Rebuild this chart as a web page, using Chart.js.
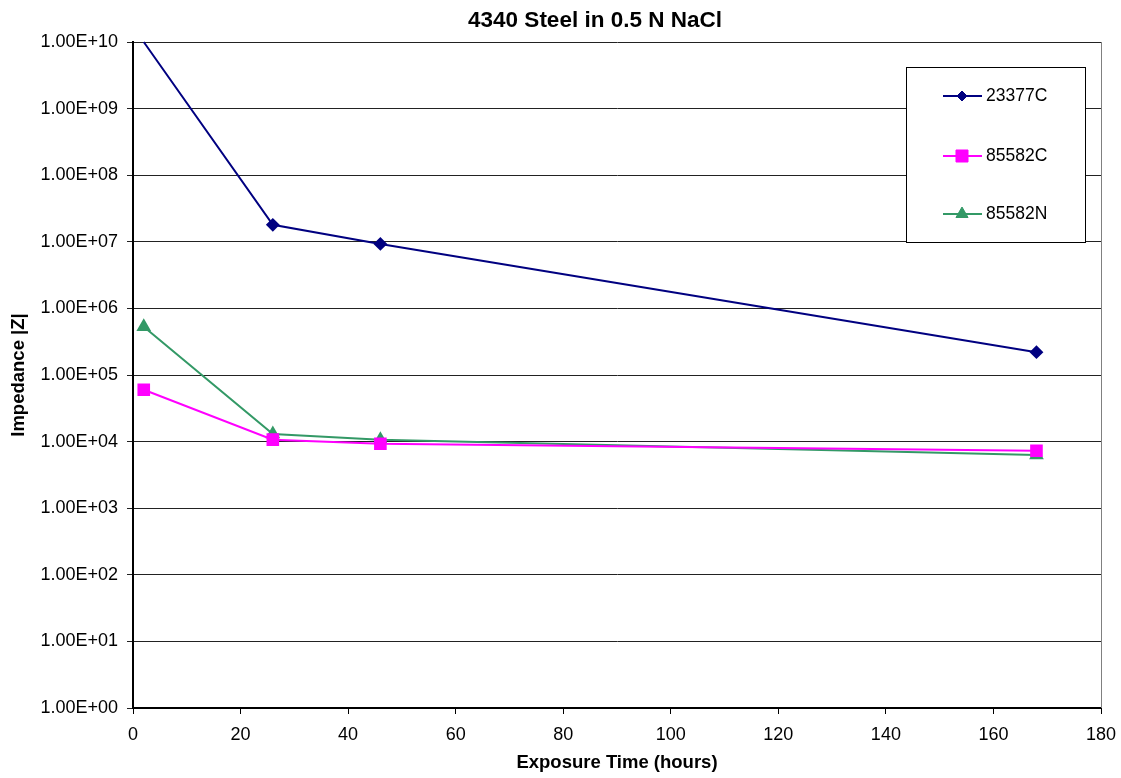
<!DOCTYPE html>
<html>
<head>
<meta charset="utf-8">
<script src="https://cdn.jsdelivr.net/npm/chart.js@4.4.0/dist/chart.umd.min.js"></script>
<style>
  html, body { margin: 0; padding: 0; background: #fff; }
  #wrap { width: 1121px; height: 778px; }
</style>
</head>
<body>
<div id="wrap"><canvas id="c" width="1121" height="778"></canvas></div>
<script>
// Donnees
var hours = [2, 26, 46, 168];
var serie23377C = [1.0e10, 1.8e7, 9.3e6, 2.2e5];
var serie85582C = [6.0e4, 1.07e4, 9.3e3, 7.3e3];
var serie85582N = [5.3e5, 1.3e4, 1.07e4, 6.3e3];
var seriesNames = ["23377C", "85582C", "85582N"];
var yTicks = [1, 1e1, 1e2, 1e3, 1e4, 1e5, 1e6, 1e7, 1e8, 1e9, 1e10];

var police = '"Liberation Sans", Arial, sans-serif';

function toPoints(xs, ys){
    var pts = [];
    for (var i = 0; i < xs.length; i++){
        pts.push({x: xs[i], y: ys[i]});
    }
    return pts;
}

function fmtExp(v){
    var e = Math.round(Math.log10(v));
    var s = (e < 10 ? "0" : "") + e;
    return "1.00E+" + s;
}

// titre + legende dessines a la main (comme Excel)
var excelDeco = {
    id: 'excelDeco',
    afterDraw: function(chart){
        var ctx = chart.ctx;
        var area = chart.chartArea;
        ctx.save();
        // bordure droite grise de la zone de trace
        ctx.strokeStyle = '#808080';
        ctx.lineWidth = 1;
        ctx.beginPath();
        ctx.moveTo(area.right + 0.5, area.top);
        ctx.lineTo(area.right + 0.5, area.bottom);
        ctx.stroke();

        // titre
        ctx.fillStyle = '#000';
        ctx.font = 'bold 22.5px ' + police;
        ctx.textAlign = 'center';
        ctx.textBaseline = 'alphabetic';
        ctx.fillText('4340 Steel in 0.5 N NaCl', 595, 27);

        // legende
        var bx = 906.5, by = 67.5, bw = 179, bh = 175;
        ctx.fillStyle = '#fff';
        ctx.fillRect(bx, by, bw, bh);
        ctx.strokeStyle = '#000';
        ctx.lineWidth = 1;
        ctx.strokeRect(bx, by, bw, bh);
        var rows = [96, 156, 214];
        var tailles = [5, 8.5, 7];
        ctx.font = '17.5px ' + police;
        ctx.textAlign = 'left';
        ctx.textBaseline = 'middle';
        for (var i = 0; i < chart.data.datasets.length; i++){
            var ds = chart.data.datasets[i];
            var y = rows[i];
            ctx.strokeStyle = ds.borderColor;
            ctx.lineWidth = ds.borderWidth;
            ctx.beginPath();
            ctx.moveTo(943, y);
            ctx.lineTo(982, y);
            ctx.stroke();
            ctx.fillStyle = ds.pointBackgroundColor;
            ctx.strokeStyle = ds.pointBorderColor;
            ctx.lineWidth = 1;
            Chart.helpers.drawPoint(ctx, {
                pointStyle: ds.pointStyle,
                radius: tailles[i],
                rotation: 0,
                borderWidth: 1
            }, 962, y);
            ctx.fillStyle = '#000';
            ctx.fillText(ds.label, 986, y);
        }
        ctx.restore();
    }
};

new Chart(document.getElementById('c').getContext('2d'), {
    type: 'line',
    data: {
        datasets: [
            {
                label: seriesNames[0],
                data: toPoints(hours, serie23377C),
                borderColor: '#000080',
                backgroundColor: '#000080',
                pointBackgroundColor: '#000080',
                pointBorderColor: '#000080',
                pointStyle: 'rectRot',
                // Excel ne dessine pas le marqueur pose sur le bord haut
                pointRadius: [0, 5.5, 5.5, 5.5],
                borderWidth: 2,
                clip: false
            },
            {
                label: seriesNames[1],
                data: toPoints(hours, serie85582C),
                borderColor: '#FF00FF',
                backgroundColor: '#FF00FF',
                pointBackgroundColor: '#FF00FF',
                pointBorderColor: '#FF00FF',
                pointStyle: 'rect',
                pointRadius: 7.5,
                borderWidth: 2,
                clip: false
            },
            {
                label: seriesNames[2],
                data: toPoints(hours, serie85582N),
                borderColor: '#339966',
                backgroundColor: '#339966',
                pointBackgroundColor: '#339966',
                pointBorderColor: '#339966',
                pointStyle: 'triangle',
                pointRadius: 6.5,
                borderWidth: 2,
                clip: false
            }
        ]
    },
    options: {
        responsive: false,
        animation: false,
        layout: { padding: { top: 42, right: 20, left: 0, bottom: 0 } },
        plugins: {
            legend: { display: false },
            title: { display: false },
            tooltip: { enabled: false }
        },
        scales: {
            x: {
                type: 'linear',
                min: 0,
                max: 180,
                ticks: {
                    stepSize: 20,
                    color: '#000',
                    padding: 10,
                    font: { family: police, size: 18 }
                },
                grid: {
                    drawOnChartArea: false,
                    color: '#000',
                    tickLength: 6
                },
                border: { color: '#000', width: 2 },
                title: {
                    display: true,
                    text: 'Exposure Time (hours)',
                    color: '#000',
                    padding: { top: 2, bottom: 4 },
                    font: { family: police, size: 18.5, weight: 'bold' }
                },
                afterFit: function(scale){
                    scale.height = 70;
                    scale.paddingLeft = 0;
                    scale.paddingRight = 0;
                }
            },
            y: {
                type: 'logarithmic',
                min: 1,
                max: 1e10,
                afterBuildTicks: function(scale){
                    scale.ticks = yTicks.map(function(v){ return {value: v}; });
                },
                ticks: {
                    color: '#000',
                    padding: 9,
                    autoSkip: false,
                    font: { family: police, size: 18 },
                    callback: function(v){ return fmtExp(v); }
                },
                grid: {
                    color: '#222',
                    tickLength: 6
                },
                border: { color: '#000', width: 2 },
                title: {
                    display: true,
                    text: 'Impedance |Z|',
                    color: '#000',
                    padding: { top: 8, bottom: 2 },
                    font: { family: police, size: 18.5, weight: 'bold' }
                },
                afterFit: function(scale){
                    scale.width = 133;
                    scale.paddingTop = 0;
                    scale.paddingBottom = 0;
                }
            }
        }
    },
    plugins: [excelDeco]
});
</script>
</body>
</html>
